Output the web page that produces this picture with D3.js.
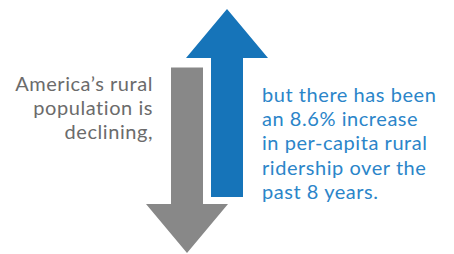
<!DOCTYPE html>
<html>
<head>
<meta charset="utf-8">
<script src="https://cdn.jsdelivr.net/npm/d3@7"></script>
<style>
  html, body { margin: 0; padding: 0; background: #fff; }
  svg { display: block; }
  text { font-family: Lato, "Open Sans", sans-serif; letter-spacing: 0.55px; }
</style>
</head>
<body>
<div id="chart"></div>
<script>
// arrows: direction, value where the shaft starts and where the tip ends (0..100 scale)
var arrowNames = ['down', 'up'];
var arrowStart = [76, 23];
var arrowEnd = [0, 100];
var arrowColors = ['#888888', '#1674b9'];

var leftLines = ['America\u2019s rural', 'population is', 'declining,'];
var rightLines = ['but there has been', 'an 8.6% increase', 'in per-capita rural',
  'ridership over the', 'past 8 years.'];

(function() {
  'use strict';

  var svgWidth = 454,
    svgHeight = 254,
    shaftWidth = 32,
    headWidth = 82,
    headLength = 49,
    lineHeight = 24.2,
    fontSize = 20;

  var svg = d3.select('#chart')
    .append('svg')
    .attr('width', svgWidth)
    .attr('height', svgHeight);

  var y = d3.scaleLinear().domain([0, 100]).range([253, 9]);
  var x = d3.scalePoint().domain(arrowNames).range([187, 227]);

  var arrows = arrowNames.map(function(n, i) {
    return { name: n, start: arrowStart[i], end: arrowEnd[i], color: arrowColors[i] };
  });

  function arrowPath(d) {
    var cx = x(d.name),
      y0 = y(d.start),
      y1 = y(d.end),
      dir = y1 > y0 ? 1 : -1,
      yBase = y1 - dir * headLength;
    var pts = [
      [cx - shaftWidth / 2, y0],
      [cx + shaftWidth / 2, y0],
      [cx + shaftWidth / 2, yBase],
      [cx + headWidth / 2, yBase],
      [cx, y1],
      [cx - headWidth / 2, yBase],
      [cx - shaftWidth / 2, yBase]
    ];
    return d3.line()(pts) + 'Z';
  }

  svg.selectAll('path.arrow')
    .data(arrows)
    .enter().append('path')
    .attr('class', 'arrow')
    .attr('d', arrowPath)
    .attr('fill', function(d) { return d.color; })
    .attr('stroke', function(d, i) { return i === 1 ? '#fff' : 'none'; })
    .attr('stroke-width', 2.5)
    .attr('paint-order', 'stroke');

  //one text block per caption, a tspan per line
  function caption(lines, xPos, yPos, anchor, color) {
    svg.append('text')
      .attr('text-anchor', anchor)
      .attr('font-size', fontSize)
      .attr('fill', color)
      .selectAll('tspan')
      .data(lines)
      .enter().append('tspan')
      .attr('x', xPos)
      .attr('y', function(d, i) { return yPos + i * lineHeight; })
      .text(function(d) { return d; });
  }

  caption(leftLines, 153, 91, 'end', '#6b6b6b');
  caption(rightLines, 262, 102, 'start', '#2b85c9');
})();
</script>
</body>
</html>
